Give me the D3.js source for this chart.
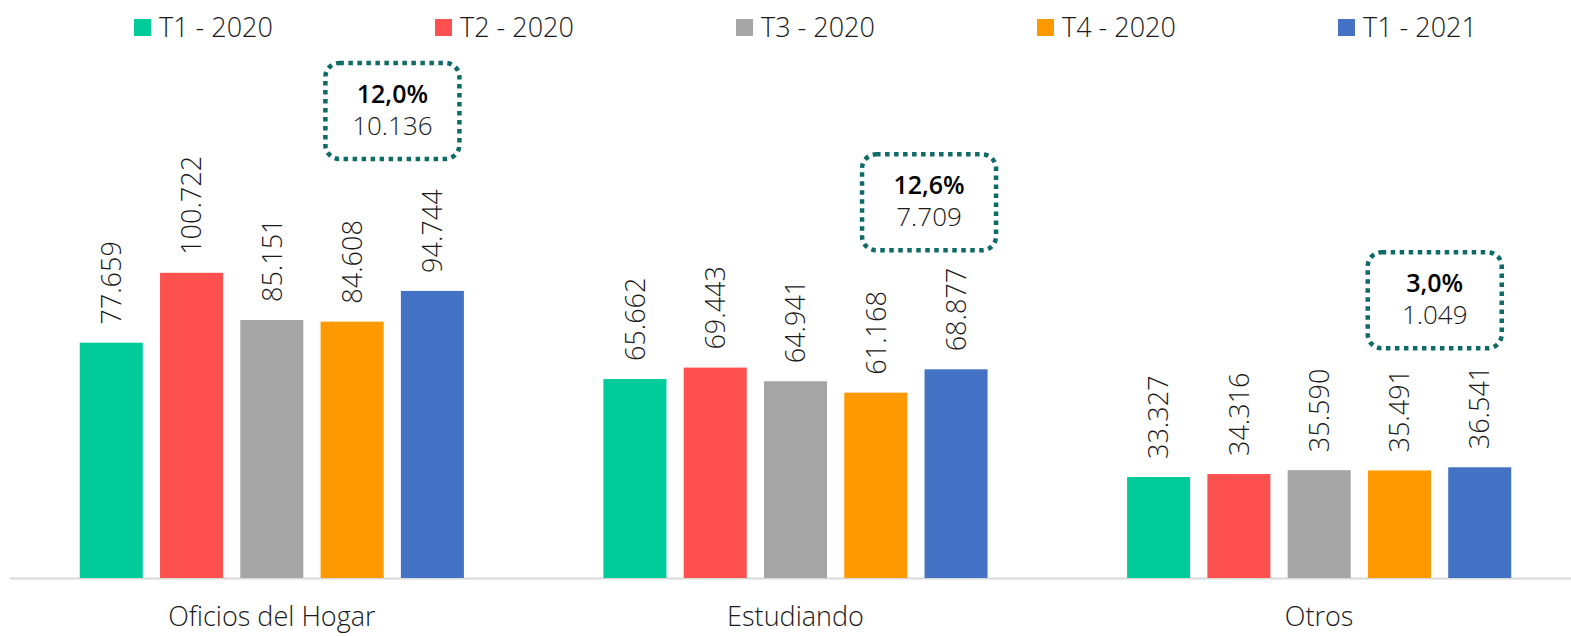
<!DOCTYPE html>
<html>
<head>
<meta charset="utf-8">
<script src="https://cdn.jsdelivr.net/npm/d3@7"></script>
<style>
  html, body { margin: 0; padding: 0; background: #fff; }
  svg { display: block; font-family: "Open Sans", "Noto Sans", sans-serif; }
</style>
</head>
<body>
<svg id="chart" width="1571" height="636"></svg>
<script>
// ---- data ----
const categories = ["Oficios del Hogar", "Estudiando", "Otros"];
const seriesNames = ["T1 - 2020", "T2 - 2020", "T3 - 2020", "T4 - 2020", "T1 - 2021"];
const t1_2020 = [77659, 65662, 33327];
const t2_2020 = [100722, 69443, 34316];
const t3_2020 = [85151, 64941, 35590];
const t4_2020 = [84608, 61168, 35491];
const t1_2021 = [94744, 68877, 36541];
const annotPct = ["12,0%", "12,6%", "3,0%"];
const annotVal = [10136, 7709, 1049];
const seriesColors = ["#00CC99", "#FF5050", "#A5A5A5", "#FF9900", "#4472C4"];

const seriesValues = [t1_2020, t2_2020, t3_2020, t4_2020, t1_2021];
const rows = categories.map((c, i) => ({
  cat: c,
  vals: seriesNames.map((s, j) => ({ s, v: seriesValues[j][i] }))
}));

const loc = d3.formatLocale({ decimal: ",", thousands: ".", grouping: [3], currency: ["", ""] });
const fmt = loc.format(",d");

const svg = d3.select("#chart");
const baseY = 578;

const x0 = d3.scaleBand().domain(categories).range([10, 1581]).paddingInner(0).paddingOuter(0);
const x1 = d3.scaleBand().domain(seriesNames).range([0, x0.bandwidth()]).paddingInner(0.215).paddingOuter(0.869);
const y = d3.scaleLinear().domain([0, 120000]).range([baseY, baseY - 120 * 3.03]);
const color = d3.scaleOrdinal().domain(seriesNames).range(seriesColors);

// baseline
svg.append("line")
  .attr("x1", 10).attr("x2", 1571)
  .attr("y1", baseY + 0.5).attr("y2", baseY + 0.5)
  .attr("stroke", "#D9D9D9").attr("stroke-width", 2);

const g = svg.selectAll("g.cat").data(rows).join("g")
  .attr("class", "cat")
  .attr("transform", d => `translate(${x0(d.cat)},0)`);

g.selectAll("rect").data(d => d.vals).join("rect")
  .attr("x", d => x1(d.s))
  .attr("y", d => y(d.v))
  .attr("width", x1.bandwidth())
  .attr("height", d => baseY - y(d.v))
  .attr("fill", d => color(d.s));

g.selectAll("text.lbl").data(d => d.vals).join("text")
  .attr("class", "lbl")
  .attr("transform", d => `translate(${x1(d.s) + x1.bandwidth() / 2},${y(d.v) - 18}) rotate(-90)`)
  .attr("dy", "0.36em")
  .attr("text-anchor", "start")
  .attr("font-size", 27)
  .attr("font-weight", 300)
  .attr("fill", "#1a1a1a")
  .text(d => fmt(d.v));

// category labels
svg.selectAll("text.cat").data(categories).join("text")
  .attr("class", "cat")
  .attr("x", d => x0(d) + x0.bandwidth() / 2)
  .attr("y", 626)
  .attr("text-anchor", "middle")
  .attr("font-size", 27)
  .attr("font-weight", 300)
  .attr("fill", "#1a1a1a")
  .text(d => d);

// annotation boxes (layout offsets relative to the T1-2021 bar)
const annotLayout = [
  { dx: -40, above: 132 },
  { dx: -27, above: 119 },
  { dx: -45, above: 119 }
];
const boxW = 134, boxH = 96;
categories.forEach((c, i) => {
  const cx = x0(c) + x1("T1 - 2021") + x1.bandwidth() / 2 + annotLayout[i].dx;
  const bottom = y(t1_2021[i]) - annotLayout[i].above;
  const top = bottom - boxH;
  const ag = svg.append("g");
  ag.append("rect")
    .attr("x", cx - boxW / 2).attr("y", top)
    .attr("width", boxW).attr("height", boxH)
    .attr("rx", 14).attr("ry", 14)
    .attr("fill", "none")
    .attr("stroke", "#0E6B66")
    .attr("stroke-width", 4.5)
    .attr("stroke-dasharray", "4.5 4.5");
  ag.append("text")
    .attr("x", cx).attr("y", top + 40)
    .attr("text-anchor", "middle")
    .attr("font-size", 25).attr("font-weight", 600)
    .attr("fill", "#000")
    .text(annotPct[i]);
  ag.append("text")
    .attr("x", cx).attr("y", top + 72)
    .attr("text-anchor", "middle")
    .attr("font-size", 26).attr("font-weight", 300)
    .attr("fill", "#1a1a1a")
    .text(fmt(annotVal[i]));
});

// legend
const lg = svg.selectAll("g.leg").data(seriesNames).join("g")
  .attr("class", "leg")
  .attr("transform", (d, i) => `translate(${134 + i * 301},0)`);
lg.append("rect")
  .attr("x", 0).attr("y", 19).attr("width", 17).attr("height", 17)
  .attr("fill", d => color(d));
lg.append("text")
  .attr("x", 25).attr("y", 37)
  .attr("font-size", 27)
  .attr("font-weight", 300)
  .attr("fill", "#1a1a1a")
  .text(d => d);
</script>
</body>
</html>
